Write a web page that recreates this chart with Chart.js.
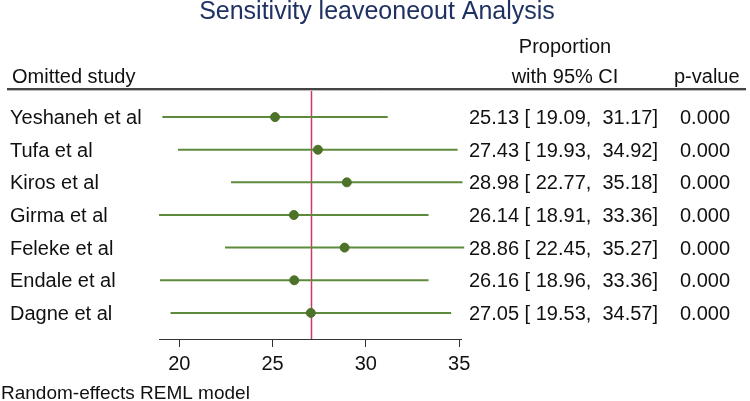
<!DOCTYPE html>
<html>
<head>
<meta charset="utf-8">
<script src="https://cdn.jsdelivr.net/npm/chart.js@4"></script>
<style>
    body { margin: 0; background: #fff; }
    #wrap { width: 750px; height: 401px; }
</style>
</head>
<body>
<div id="wrap"><canvas id="forest" width="750" height="401"></canvas></div>
<script>
// Leave-one-out results
const studies = ['Yeshaneh et al', 'Tufa et al', 'Kiros et al', 'Girma et al', 'Feleke et al', 'Endale et al', 'Dagne et al'];
const estimates = [25.13, 27.43, 28.98, 26.14, 28.86, 26.16, 27.05];
const lowerCI = [19.09, 19.93, 22.77, 18.91, 22.45, 18.96, 19.53];
const upperCI = [31.17, 34.92, 35.18, 33.36, 35.27, 33.36, 34.57];
const pValues = ['0.000', '0.000', '0.000', '0.000', '0.000', '0.000', '0.000'];
const overall = 27.05;
const xTicks = [20, 25, 30, 35];

const FONT = '"Liberation Sans", Arial, sans-serif';
const lineGreen = '#5e8a3c';
const dotGreen = '#4d7229';
const refRed = '#c93a62';

// one line dataset per study for the CI segment
const ciSets = studies.map(function(name, i) {
    return {
        type: 'line',
        label: name,
        data: [{ x: lowerCI[i], y: i }, { x: upperCI[i], y: i }],
        borderColor: lineGreen,
        borderWidth: 2,
        pointRadius: 0,
        clip: false,
        order: 3
    };
});

const pointSet = {
    type: 'scatter',
    label: 'estimate',
    data: estimates.map(function(v, i) { return { x: v, y: i }; }),
    backgroundColor: dotGreen,
    borderColor: dotGreen,
    pointRadius: 4.5,
    clip: false,
    order: 1
};

// text, header rule and overall line
const tablePlugin = {
    id: 'tablePlugin',
    beforeDatasetsDraw(chart) {
        const ctx = chart.ctx;
        const xs = chart.scales.x;
        const area = chart.chartArea;
        const xo = Math.round(xs.getPixelForValue(overall)) + 0.5;
        ctx.save();
        ctx.strokeStyle = refRed;
        ctx.lineWidth = 1.5;
        ctx.beginPath();
        ctx.moveTo(xo, area.top);
        ctx.lineTo(xo, area.bottom);
        ctx.stroke();
        ctx.restore();
    },
    afterDraw(chart) {
        const ctx = chart.ctx;
        const ys = chart.scales.y;
        ctx.save();

        // title
        ctx.fillStyle = '#1f3263';
        ctx.font = '25px ' + FONT;
        ctx.textAlign = 'center';
        ctx.textBaseline = 'alphabetic';
        ctx.fillText('Sensitivity leaveoneout Analysis', 377, 19);

        // column headers
        ctx.fillStyle = '#111';
        ctx.font = '20px ' + FONT;
        ctx.fillText('Proportion', 565, 53);
        ctx.fillText('with 95% CI', 565, 83);
        ctx.textAlign = 'left';
        ctx.fillText('Omitted study', 12, 83);
        ctx.fillText('p-value', 674, 83);

        // header rule
        ctx.strokeStyle = '#444';
        ctx.lineWidth = 2;
        ctx.beginPath();
        ctx.moveTo(7, 89);
        ctx.lineTo(746, 89);
        ctx.stroke();
        ctx.strokeStyle = '#bbb';
        ctx.lineWidth = 1;
        ctx.beginPath();
        ctx.moveTo(7, 90.5);
        ctx.lineTo(746, 90.5);
        ctx.stroke();

        // rows
        studies.forEach(function(name, i) {
            const y = ys.getPixelForValue(i) + 7;
            const txt = estimates[i].toFixed(2) + ' [ ' + lowerCI[i].toFixed(2) + ',  ' + upperCI[i].toFixed(2) + ']';
            ctx.fillText(name, 10, y);
            ctx.fillText(txt, 469, y);
            ctx.fillText(pValues[i], 680, y);
        });

        // model note
        ctx.font = '19px ' + FONT;
        ctx.fillText('Random-effects REML model', 1, 399);
        ctx.restore();
    }
};

const chart = new Chart(document.getElementById('forest'), {
    data: { datasets: ciSets.concat([pointSet]) },
    options: {
        responsive: false,
        animation: false,
        events: [],
        layout: { padding: { left: 159, right: 289, top: 90, bottom: 0 } },
        plugins: {
            legend: { display: false },
            tooltip: { enabled: false }
        },
        scales: {
            x: {
                type: 'linear',
                min: 18.91,
                max: 35.1,
                afterBuildTicks: function(axis) {
                    axis.ticks = xTicks.map(function(v) { return { value: v }; });
                },
                afterFit: function(axis) { axis.height = 62; },
                border: { display: true, color: '#333', width: 1 },
                grid: { drawOnChartArea: false, drawTicks: true, tickLength: 8, color: '#333' },
                ticks: {
                    color: '#111',
                    padding: 5,
                    maxRotation: 0,
                    font: { family: FONT, size: 20 }
                }
            },
            y: {
                type: 'linear',
                display: false,
                reverse: true,
                min: -0.83,
                max: 6.8
            }
        }
    },
    plugins: [tablePlugin]
});
</script>
</body>
</html>
